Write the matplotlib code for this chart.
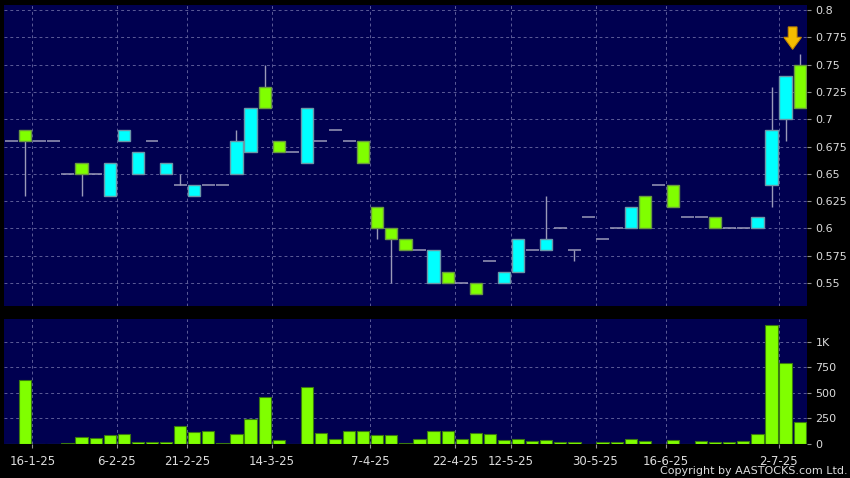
import matplotlib
matplotlib.use('Agg')
import matplotlib.pyplot as plt
import numpy as np
from matplotlib.patches import FancyArrow

# ---------------- data ----------------
opens = [0.68, 0.69, 0.68, 0.68, 0.65, 0.66, 0.65, 0.63, 0.68, 0.65,
         0.68, 0.65, 0.64, 0.63, 0.64, 0.64, 0.65, 0.67, 0.73, 0.68,
         0.67, 0.66, 0.68, 0.69, 0.68, 0.68, 0.62, 0.60, 0.59, 0.58,
         0.55, 0.56, 0.55, 0.55, 0.57, 0.55, 0.56, 0.58, 0.58, 0.60,
         0.58, 0.61, 0.59, 0.60, 0.60, 0.63, 0.64, 0.64, 0.61, 0.61,
         0.61, 0.60, 0.60, 0.60, 0.64, 0.70, 0.75]
closes = [0.68, 0.68, 0.68, 0.68, 0.65, 0.65, 0.65, 0.66, 0.69, 0.67,
          0.68, 0.66, 0.64, 0.64, 0.64, 0.64, 0.68, 0.71, 0.71, 0.67,
          0.67, 0.71, 0.68, 0.69, 0.68, 0.66, 0.60, 0.59, 0.58, 0.58,
          0.58, 0.55, 0.55, 0.54, 0.57, 0.56, 0.59, 0.58, 0.59, 0.60,
          0.58, 0.61, 0.59, 0.60, 0.62, 0.60, 0.64, 0.62, 0.61, 0.61,
          0.60, 0.60, 0.60, 0.61, 0.69, 0.74, 0.71]
highs = [0.68, 0.69, 0.68, 0.68, 0.65, 0.66, 0.65, 0.66, 0.69, 0.67,
         0.68, 0.66, 0.65, 0.64, 0.64, 0.64, 0.69, 0.71, 0.75, 0.68,
         0.67, 0.71, 0.68, 0.69, 0.68, 0.68, 0.62, 0.60, 0.59, 0.58,
         0.58, 0.56, 0.55, 0.55, 0.57, 0.56, 0.59, 0.58, 0.63, 0.60,
         0.58, 0.61, 0.59, 0.60, 0.62, 0.63, 0.64, 0.64, 0.61, 0.61,
         0.61, 0.60, 0.60, 0.61, 0.73, 0.74, 0.76]
lows = [0.68, 0.63, 0.68, 0.68, 0.65, 0.63, 0.65, 0.63, 0.68, 0.65,
        0.68, 0.65, 0.64, 0.63, 0.64, 0.64, 0.65, 0.67, 0.71, 0.67,
        0.67, 0.66, 0.68, 0.69, 0.68, 0.66, 0.59, 0.55, 0.58, 0.58,
        0.55, 0.55, 0.55, 0.54, 0.57, 0.55, 0.56, 0.58, 0.58, 0.60,
        0.57, 0.61, 0.59, 0.60, 0.60, 0.60, 0.64, 0.62, 0.61, 0.61,
        0.60, 0.60, 0.60, 0.60, 0.62, 0.68, 0.71]
volumes = [0, 626, 0, 0, 5, 62, 55, 82, 98, 10,
           15, 10, 170, 111, 124, 3, 98, 239, 455, 30,
           0, 554, 101, 45, 121, 121, 85, 85, 8, 49,
           121, 121, 49, 101, 95, 39, 49, 23, 39, 10,
           10, 0, 10, 10, 44, 23, 0, 30, 0, 23,
           10, 10, 20, 98, 1164, 790, 213]

date_tick_index = [1, 7, 12, 18, 25, 31, 35, 41, 46, 54]
date_labels = ['16-1-25', '6-2-25', '21-2-25', '14-3-25', '7-4-25',
               '22-4-25', '12-5-25', '30-5-25', '16-6-25', '2-7-25']
price_ticks = [0.55, 0.575, 0.6, 0.625, 0.65, 0.675, 0.7, 0.725, 0.75, 0.775, 0.8]
price_labels = ['0.55', '0.575', '0.6', '0.625', '0.65', '0.675', '0.7',
                '0.725', '0.75', '0.775', '0.8']
vol_ticks = [0, 250, 500, 750, 1000]
vol_labels = ['0', '250', '500', '750', '1K']
marker_index = 55.5

# ---------------- style ----------------
BG = '#000000'
PANEL = '#000050'
GRID = '#5c5c98'
CYAN = '#00ffff'
CYAN_EDGE = '#6a98a8'
GREEN = '#80ff00'
GREEN_EDGE = '#6a9a40'
WICK = '#9a9ab8'
TXT = '#dcdcdc'

o = np.array(opens); c = np.array(closes)
h = np.array(highs); l = np.array(lows)
v = np.array(volumes)
x = np.arange(len(o))

fig = plt.figure(figsize=(8.5, 4.78), dpi=100, facecolor=BG)
ax = fig.add_axes([4/850, 1-306/478, 803/850, 301/478])
axv = fig.add_axes([4/850, 1-443.5/478, 803/850, 124.5/478], sharex=ax)

for a in (ax, axv):
    a.set_facecolor(PANEL)
    for s in a.spines.values():
        s.set_visible(False)
    a.set_axisbelow(True)
    a.grid(True, linestyle=(0, (3, 3)), color=GRID, linewidth=0.7)
    a.yaxis.tick_right()
    a.tick_params(axis='y', direction='out', length=3, width=0.8,
                  color='#909090', labelcolor=TXT, labelsize=8, pad=3)

ax.set_xlim(-0.51, 56.52)
ax.set_ylim(0.5289, 0.8047)
axv.set_ylim(0, 1225)

tick_pos = [i + 0.5 for i in date_tick_index]
axv.set_xticks(tick_pos)
axv.set_xticklabels(date_labels)
axv.tick_params(axis='x', direction='out', length=3, width=0.8,
                color='#909090', labelcolor=TXT, labelsize=8.5, pad=5)
ax.tick_params(axis='x', length=0, labelbottom=False)

ax.set_yticks(price_ticks)
ax.set_yticklabels(price_labels)
axv.set_yticks(vol_ticks)
axv.set_yticklabels(vol_labels)

# candles
flat = np.isclose(o, c)
up = (c > o) & ~flat
down = (c < o) & ~flat
W = 0.87
ax.vlines(x, l, h, color=WICK, linewidth=1.0, zorder=2)
ax.bar(x[up], (c - o)[up], bottom=o[up], width=W, color=CYAN,
       edgecolor=CYAN_EDGE, linewidth=1.0, zorder=3)
ax.bar(x[down], (o - c)[down], bottom=c[down], width=W, color=GREEN,
       edgecolor=GREEN_EDGE, linewidth=1.0, zorder=3)
ax.hlines(o[flat], x[flat] - 0.46, x[flat] + 0.46, color=WICK,
          linewidth=1.1, zorder=3)

# volume bars
axv.bar(x, v, width=W, color=GREEN, edgecolor='#3a7a10', linewidth=0.8, zorder=3)

# marker arrow
arr = FancyArrow(marker_index, 0.7846, 0, -0.0205, width=0.62, head_width=1.25,
                 head_length=0.011, length_includes_head=True,
                 facecolor='#f5bd00', edgecolor='#c88a00', linewidth=0.8, zorder=5)
ax.add_patch(arr)

fig.text(0.997, 1 - 471/478, 'Copyright by AASTOCKS.com Ltd.', ha='right',
         va='center', color=TXT, fontsize=8)

fig.savefig('out.png', dpi=100, facecolor=BG)
